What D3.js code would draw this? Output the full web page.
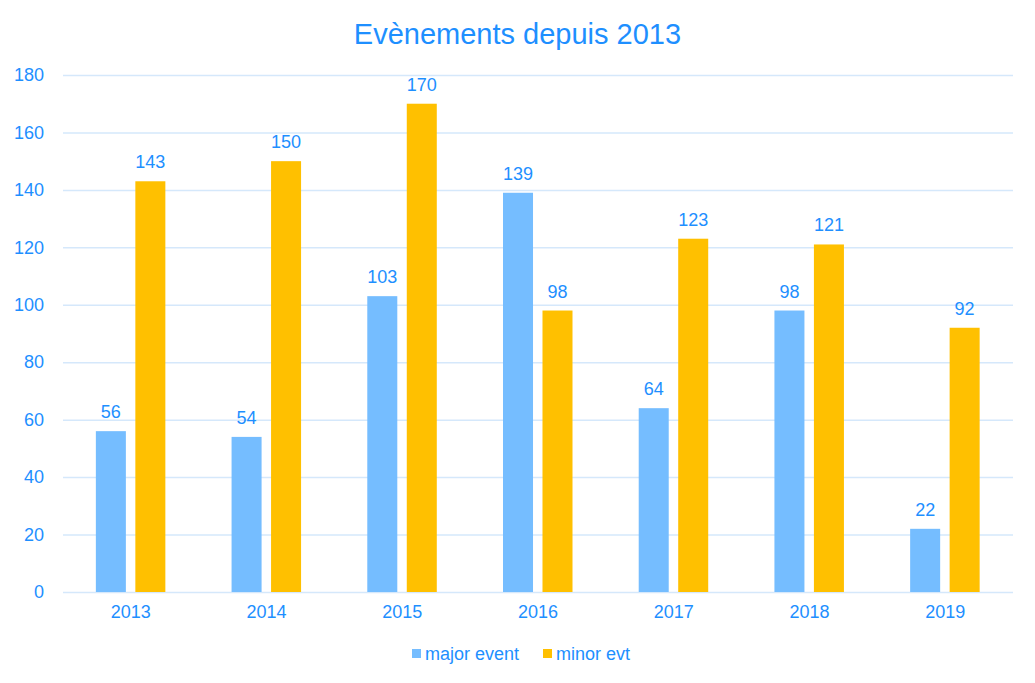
<!DOCTYPE html>
<html>
<head>
<meta charset="utf-8">
<script src="https://cdn.jsdelivr.net/npm/d3@7"></script>
<style>
  body { margin: 0; background: #fff; }
  text { font-family: "Liberation Sans", Arial, sans-serif; }
</style>
</head>
<body>
<div id="chart"></div>
<script>
const years = ["2013", "2014", "2015", "2016", "2017", "2018", "2019"];
const majorEvents = [56, 54, 103, 139, 64, 98, 22];
const minorEvents = [143, 150, 170, 98, 123, 121, 92];
const yTicks = [0, 20, 40, 60, 80, 100, 120, 140, 160, 180];
const seriesNames = ["major event", "minor evt"];

const W = 1035, H = 683;
const margin = { top: 75, right: 22, bottom: 91, left: 63 };
const textColor = "#1E8FFF";
const colors = ["#75BDFF", "#FFC000"];

const svg = d3.select("#chart").append("svg")
    .attr("width", W)
    .attr("height", H);

const x = d3.scaleBand()
    .domain(years)
    .range([margin.left, W - margin.right]);

const x1 = d3.scaleBand()
    .domain(seriesNames)
    .range([x.bandwidth() / 2 - 35, x.bandwidth() / 2 + 34.5])
    .paddingInner(0.24);

const y = d3.scaleLinear()
    .domain([0, 180])
    .range([H - margin.bottom, margin.top]);

// gridlines + y labels
const yAxis = d3.axisLeft(y)
    .tickValues(yTicks)
    .tickSize(-(W - margin.left - margin.right))
    .tickPadding(19);

svg.append("g")
    .attr("transform", `translate(${margin.left},0)`)
    .call(yAxis)
    .call(g => g.select(".domain").remove())
    .call(g => g.selectAll(".tick line")
        .attr("stroke", "#D5E8FB")
        .attr("stroke-width", 1.5))
    .call(g => g.selectAll("text")
        .attr("fill", textColor)
        .style("font-size", "18px"));

// x labels
svg.append("g")
    .attr("transform", `translate(0,${H - margin.bottom})`)
    .call(d3.axisBottom(x).tickSize(0).tickPadding(13))
    .call(g => g.select(".domain").remove())
    .call(g => g.selectAll("text")
        .attr("fill", textColor)
        .style("font-size", "18px"));

const rows = years.map((yr, i) => ({ year: yr, vals: [majorEvents[i], minorEvents[i]] }));

const groups = svg.selectAll(".grp")
    .data(rows)
    .enter().append("g")
    .attr("class", "grp")
    .attr("transform", d => `translate(${x(d.year)},0)`);

groups.selectAll("rect")
    .data(d => d.vals.map((v, j) => ({ name: seriesNames[j], v, j })))
    .enter().append("rect")
    .attr("x", d => x1(d.name))
    .attr("y", d => y(d.v))
    .attr("width", x1.bandwidth())
    .attr("height", d => y(0) - y(d.v))
    .attr("fill", d => colors[d.j]);

groups.selectAll(".lbl")
    .data(d => d.vals.map((v, j) => ({ name: seriesNames[j], v, j })))
    .enter().append("text")
    .attr("class", "lbl")
    .attr("x", d => x1(d.name) + x1.bandwidth() / 2)
    .attr("y", d => y(d.v) - 13)
    .attr("text-anchor", "middle")
    .attr("fill", textColor)
    .style("font-size", "18px")
    .text(d => d.v);

// title
svg.append("text")
    .attr("x", W / 2)
    .attr("y", 44)
    .attr("text-anchor", "middle")
    .attr("fill", textColor)
    .style("font-size", "29px")
    .text("Evènements depuis 2013");

// legend
const legendX = [412, 543];
const legend = svg.selectAll(".leg")
    .data(seriesNames)
    .enter().append("g")
    .attr("class", "leg")
    .attr("transform", (d, i) => `translate(${legendX[i]},654)`);

legend.append("rect")
    .attr("x", 0)
    .attr("y", -5)
    .attr("width", 9)
    .attr("height", 9)
    .attr("fill", (d, i) => colors[i]);

legend.append("text")
    .attr("x", 13)
    .attr("y", 6)
    .attr("fill", textColor)
    .style("font-size", "18px")
    .text(d => d);
</script>
</body>
</html>
